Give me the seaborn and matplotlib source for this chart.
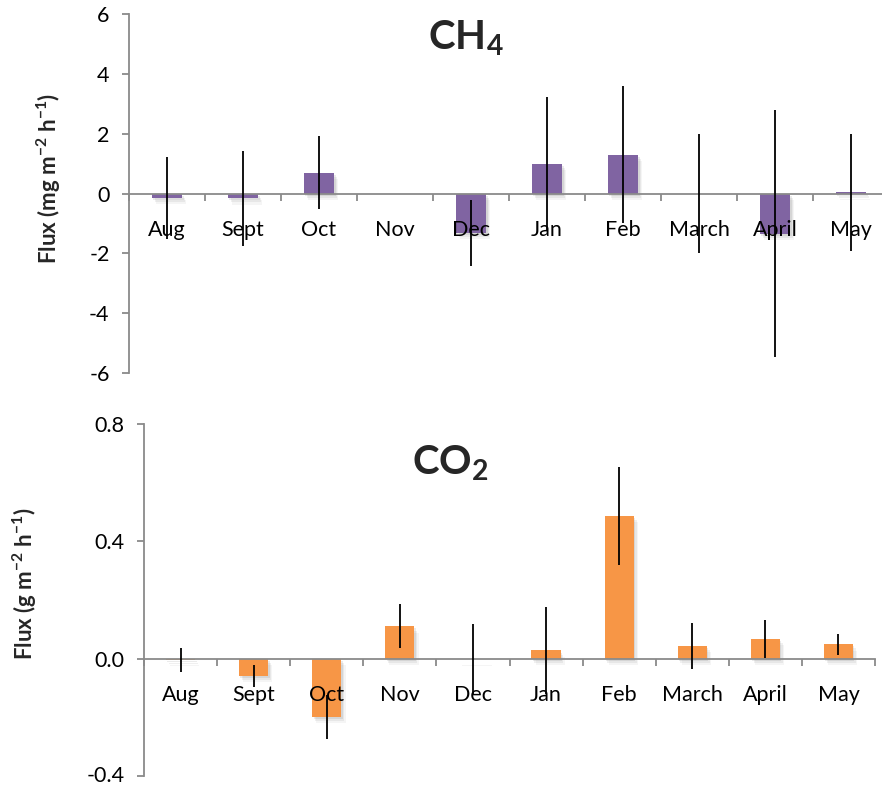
import numpy as np
import pandas as pd
import matplotlib
matplotlib.use("Agg")
import matplotlib.pyplot as plt
import matplotlib.patheffects as pe
import matplotlib.transforms as mtransforms
import seaborn as sns

months = ["Aug", "Sept", "Oct", "Nov", "Dec", "Jan", "Feb", "March", "April", "May"]
ch4_flux = [-0.15, -0.16, 0.69, 0.0, -1.32, 0.99, 1.30, 0.0, -1.34, 0.04]
ch4_err = [1.37, 1.58, 1.22, 0.0, 1.10, 2.22, 2.30, 2.0, 4.12, 1.96]
co2_flux = [-0.004, -0.058, -0.198, 0.110, -0.002, 0.028, 0.486, 0.044, 0.067, 0.049]
co2_err = [0.041, 0.038, 0.075, 0.075, 0.120, 0.148, 0.166, 0.079, 0.064, 0.035]
ch4_ticks = [-6, -4, -2, 0, 2, 4, 6]
co2_ticks = [-0.4, 0.0, 0.4, 0.8]

sns.set_theme(style="white")
plt.rcParams["font.family"] = ["Lato", "DejaVu Sans"]
plt.rcParams["mathtext.fontset"] = "custom"
plt.rcParams["mathtext.rm"] = "Lato"
plt.rcParams["mathtext.bf"] = "Lato:bold"

W, H = 882, 785
fig = plt.figure(figsize=(W / 100, H / 100), dpi=100)
fig.patch.set_facecolor("white")

GRAY = "#8a8a8a"
shadow = [
    pe.SimplePatchShadow(offset=(1, -1.5), shadow_rgbFace="#444444", alpha=0.10),
    pe.SimplePatchShadow(offset=(2, -3), shadow_rgbFace="#444444", alpha=0.08),
    pe.SimplePatchShadow(offset=(3, -4.5), shadow_rgbFace="#444444", alpha=0.05),
    pe.Normal(),
]


def px_axes(l, r, t, b):
    return fig.add_axes([l / W, 1 - b / H, (r - l) / W, (b - t) / H])


def panel(ax, vals, errs, color, ticks, labels):
    df = pd.DataFrame({"month": months, "flux": vals})
    sns.barplot(data=df, x="month", y="flux", color=color, width=0.4,
                saturation=1, ax=ax, errorbar=None)
    for p in ax.patches:
        p.set_edgecolor("none")
        p.set_path_effects(shadow)
        p.set_zorder(0.5)
    ax.errorbar(np.arange(len(months)), vals, yerr=errs, fmt="none",
                ecolor="black", elinewidth=1.3, capsize=0, zorder=5)
    ax.set_xlim(-0.5, len(months) - 0.5)
    ax.set_ylim(ticks[0], ticks[-1])
    ax.set_yticks(ticks)
    ax.set_yticklabels(labels)
    ax.set_xticks(np.arange(len(months)))
    ax.set_xticklabels(months)
    ax.set_xticks(np.arange(-0.5, len(months), 1), minor=True)
    ax.set_xlabel("")
    ax.set_ylabel("")
    ax.xaxis.set_zorder(3)
    for s in ["top", "right"]:
        ax.spines[s].set_visible(False)
    ax.spines["bottom"].set_position(("data", 0))
    for s in ["left", "bottom"]:
        ax.spines[s].set_color(GRAY)
        ax.spines[s].set_linewidth(1.3)
        ax.spines[s].set_zorder(2)
    ax.tick_params(axis="x", which="major", length=0, pad=19, labelsize=15.5,
                   labelcolor="black")
    ax.tick_params(axis="x", which="minor", length=5, width=1.3, color=GRAY,
                   direction="out", bottom=True)
    ax.tick_params(axis="y", length=5, width=1.3, color=GRAY, direction="out",
                   left=True, pad=9, labelsize=15.5, labelcolor="black")
    ax.set_facecolor("none")
    ax.grid(False)


ax1 = px_axes(129, 889, 14, 373)
panel(ax1, ch4_flux, ch4_err, "#8064A2", ch4_ticks, [f"{t:g}" for t in ch4_ticks])
ax2 = px_axes(144, 875, 424, 776)
panel(ax2, co2_flux, co2_err, "#F79646", co2_ticks, ["-0.4", "0.0", "0.4", "0.8"])
shift = mtransforms.ScaledTranslation(0, 2.5 / 100, fig.dpi_scale_trans)
for lab in ax2.get_yticklabels():
    if lab.get_text() == "-0.4":
        lab.set_transform(lab.get_transform() + shift)

fig.text(466 / W, 1 - 38 / H, r"$\mathbf{CH_4}$", fontsize=29, ha="center", va="center")
fig.text(450 / W, 1 - 463 / H, r"$\mathbf{CO_2}$", fontsize=29, ha="center", va="center")

fig.text(49 / W, 1 - 178 / H, r"Flux (mg m$^{\mathbf{-2}}$ h$^{\mathbf{-1}}$)",
         rotation=90, fontsize=16, fontweight="bold", ha="center", va="center")
fig.text(25 / W, 1 - 584 / H, r"Flux (g m$^{\mathbf{-2}}$ h$^{\mathbf{-1}}$)",
         rotation=90, fontsize=16, fontweight="bold", ha="center", va="center")

fig.savefig("out.png", dpi=100, facecolor="white")
